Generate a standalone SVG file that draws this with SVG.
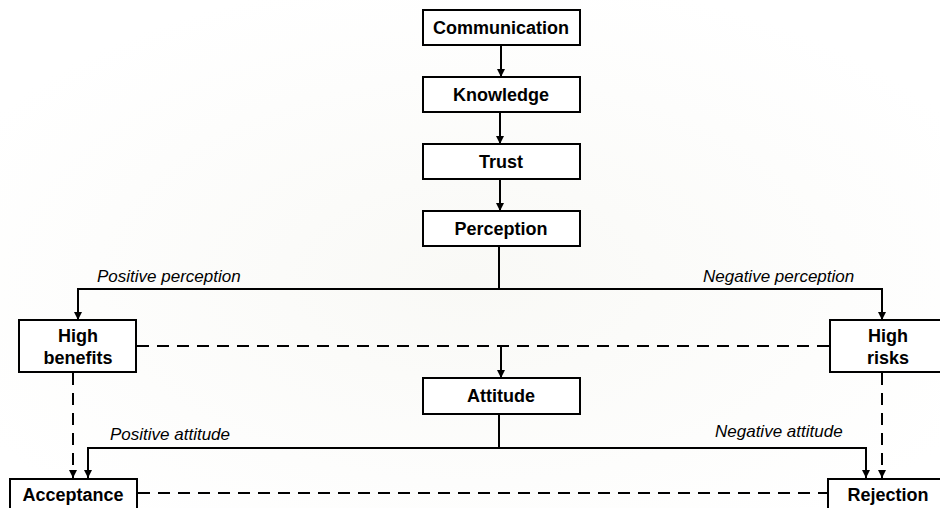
<svg xmlns="http://www.w3.org/2000/svg" width="940" height="508" viewBox="0 0 940 508">
  <defs>
    <radialGradient id="bg" cx="50%" cy="55%" r="60%">
      <stop offset="0" stop-color="#f9f9f6"/>
      <stop offset="1" stop-color="#ffffff"/>
    </radialGradient>
    <marker id="arr" viewBox="0 0 8 10" refX="8" refY="5" markerWidth="8" markerHeight="10" markerUnits="userSpaceOnUse" orient="auto">
      <path d="M0,1 L8,5 L0,9 z" fill="#000"/>
    </marker>
  </defs>
  <style>
    .box { fill: #ffffff; stroke: #000; stroke-width: 2; }
    .lbl { font-family: "Liberation Sans", Arial, sans-serif; font-weight: bold; font-size: 18px; text-anchor: middle; fill: #000; }
    .it { font-family: "Liberation Sans", Arial, sans-serif; font-style: italic; font-size: 17px; fill: #000; }
    .ln { fill: none; stroke: #000; stroke-width: 2; }
    .dash { fill: none; stroke: #000; stroke-width: 2; stroke-dasharray: 12 8; }
  </style>
  <rect x="0" y="0" width="940" height="508" fill="url(#bg)"/>

  <g id="connectors">
    <line class="ln" x1="501" y1="45" x2="501" y2="77" marker-end="url(#arr)"/>
    <line class="ln" x1="500" y1="112" x2="500" y2="144" marker-end="url(#arr)"/>
    <line class="ln" x1="500" y1="179" x2="500" y2="211" marker-end="url(#arr)"/>
    <line class="ln" x1="499" y1="246" x2="499" y2="289"/>
    <polyline class="ln" points="78,289 78,289 882,289"/>
    <line class="ln" x1="78" y1="288" x2="78" y2="320" marker-end="url(#arr)"/>
    <line class="ln" x1="882" y1="288" x2="882" y2="320" marker-end="url(#arr)"/>
    <line class="dash" x1="137" y1="346" x2="830" y2="346"/>
    <line class="ln" x1="501" y1="346" x2="501" y2="378" marker-end="url(#arr)"/>
    <line class="ln" x1="499" y1="414" x2="499" y2="448"/>
    <line class="ln" x1="88" y1="448" x2="866" y2="448"/>
    <line class="ln" x1="88" y1="447" x2="88" y2="478" marker-end="url(#arr)"/>
    <line class="ln" x1="866" y1="447" x2="866" y2="478" marker-end="url(#arr)"/>
    <line class="dash" x1="73" y1="373" x2="73" y2="478" marker-end="url(#arr)"/>
    <line class="dash" x1="882" y1="373" x2="882" y2="478" marker-end="url(#arr)"/>
    <line class="dash" x1="138" y1="493" x2="827" y2="493"/>
  </g>

  <g id="label-positive-perception"><text class="it" x="97" y="282">Positive perception</text></g>
  <g id="label-negative-perception"><text class="it" x="703" y="282">Negative perception</text></g>
  <g id="label-positive-attitude"><text class="it" x="110" y="440">Positive attitude</text></g>
  <g id="label-negative-attitude"><text class="it" x="715" y="437">Negative attitude</text></g>

  <g id="communication">
    <rect class="box" x="423" y="10" width="157" height="35"/>
    <text class="lbl" x="501" y="34">Communication</text>
  </g>
  <g id="knowledge">
    <rect class="box" x="423" y="77" width="157" height="35"/>
    <text class="lbl" x="501" y="101">Knowledge</text>
  </g>
  <g id="trust">
    <rect class="box" x="423" y="144" width="157" height="35"/>
    <text class="lbl" x="501" y="168">Trust</text>
  </g>
  <g id="perception">
    <rect class="box" x="423" y="211" width="157" height="35"/>
    <text class="lbl" x="501" y="235">Perception</text>
  </g>
  <g id="high-benefits">
    <rect class="box" x="19" y="320" width="117" height="52"/>
    <text class="lbl" x="78" y="342">High</text>
    <text class="lbl" x="78" y="364">benefits</text>
  </g>
  <g id="high-risks">
    <rect class="box" x="830" y="320" width="118" height="52"/>
    <text class="lbl" x="888" y="342">High</text>
    <text class="lbl" x="888" y="364">risks</text>
  </g>
  <g id="attitude">
    <rect class="box" x="423" y="378" width="157" height="36"/>
    <text class="lbl" x="501" y="402">Attitude</text>
  </g>
  <g id="acceptance">
    <rect class="box" x="10" y="479" width="127" height="40"/>
    <text class="lbl" x="73" y="501">Acceptance</text>
  </g>
  <g id="rejection">
    <rect class="box" x="828" y="479" width="120" height="40"/>
    <text class="lbl" x="888" y="501">Rejection</text>
  </g>
</svg>
